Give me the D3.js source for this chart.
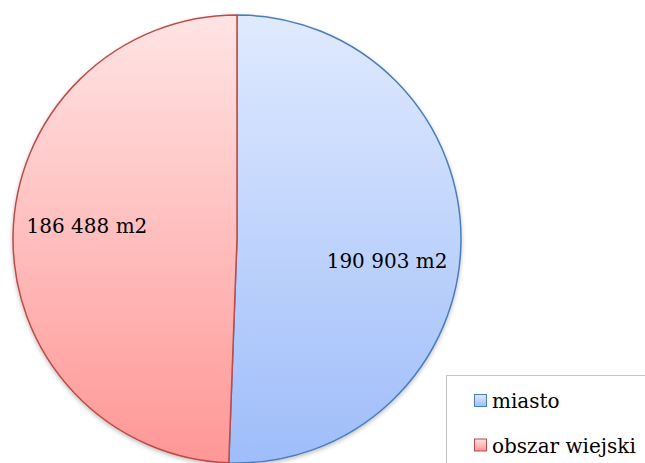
<!DOCTYPE html>
<html><head><meta charset="utf-8">
<script src="https://cdn.jsdelivr.net/npm/d3@7"></script>
<style>body{margin:0;background:#fff;overflow:hidden}svg{display:block}</style>
</head><body>
<svg id="c" width="645" height="463"></svg>
<script>
const categories = ["miasto", "obszar wiejski"];
const values = [190903, 186488];
const labels = ["190 903 m2", "186 488 m2"];
const fillsTop = ["#e0eafe", "#ffe4e4"];
const fillsBottom = ["#9ebdfa", "#ff9796"];
const strokes = ["#4a7ebb", "#be4b48"];
const labelDy = [18, -11];
const FONT = "'DejaVu Serif', serif";

const svg = d3.select("#c");
const cx = 237, cy = 239, r = 224;
const defs = svg.append("defs");
categories.forEach((c, i) => {
  const g = defs.append("linearGradient").attr("id", "g" + i)
    .attr("gradientUnits", "userSpaceOnUse")
    .attr("x1", 0).attr("y1", -r).attr("x2", 0).attr("y2", r);
  g.append("stop").attr("offset", 0).attr("stop-color", fillsTop[i]);
  g.append("stop").attr("offset", 1).attr("stop-color", fillsBottom[i]);
  const lgr = defs.append("linearGradient").attr("id", "lg" + i).attr("x1", 0).attr("y1", 0).attr("x2", 0).attr("y2", 1);
  lgr.append("stop").attr("offset", 0).attr("stop-color", fillsTop[i]);
  lgr.append("stop").attr("offset", 1).attr("stop-color", fillsBottom[i]);
});
const f = defs.append("filter").attr("id", "sh").attr("x", "-10%").attr("y", "-10%").attr("width", "120%").attr("height", "120%");
f.append("feDropShadow").attr("dx", 0).attr("dy", 2).attr("stdDeviation", 2).attr("flood-color", "#000").attr("flood-opacity", 0.25);

const pie = d3.pie().sort(null).value(d => d)(values);
const arc = d3.arc().innerRadius(0).outerRadius(r);
const ga = svg.append("g").attr("transform", `translate(${cx},${cy})`).attr("filter", "url(#sh)");
ga.selectAll("path").data(pie).join("path")
  .attr("d", arc)
  .attr("fill", (d, i) => `url(#g${i})`)
  .attr("stroke", (d, i) => strokes[i])
  .attr("stroke-width", 1.5)
  .attr("stroke-linejoin", "round");

const larc = d3.arc().innerRadius(r * 0.67).outerRadius(r * 0.67);
svg.append("g").selectAll("text").data(pie).join("text")
  .attr("x", d => cx + larc.centroid(d)[0])
  .attr("y", d => cy + larc.centroid(d)[1])
  .attr("dy", (d, i) => labelDy[i] + 8)
  .attr("text-anchor", "middle")
  .attr("font-family", FONT)
  .attr("font-size", 20)
  .attr("fill", "#000")
  .text((d, i) => labels[i]);

// legend
const lg = svg.append("g");
lg.append("rect").attr("x", 446.5).attr("y", 375.5).attr("width", 220).attr("height", 120)
  .attr("fill", "#fff").attr("stroke", "#c6c6c6").attr("stroke-width", 1);
const ly = d3.scalePoint().domain(categories).range([400.5, 445]);
categories.forEach((c, i) => {
  lg.append("rect").attr("x", 474.5).attr("y", ly(c) - 6).attr("width", 12).attr("height", 12)
    .attr("fill", `url(#lg${i})`).attr("stroke", strokes[i]).attr("stroke-width", 1);
  lg.append("text").attr("x", 492).attr("y", ly(c) + 7.5)
    .attr("font-family", FONT)
    .attr("font-size", 20)
    .attr("fill", "#000").text(c);
});
</script>
</body></html>
